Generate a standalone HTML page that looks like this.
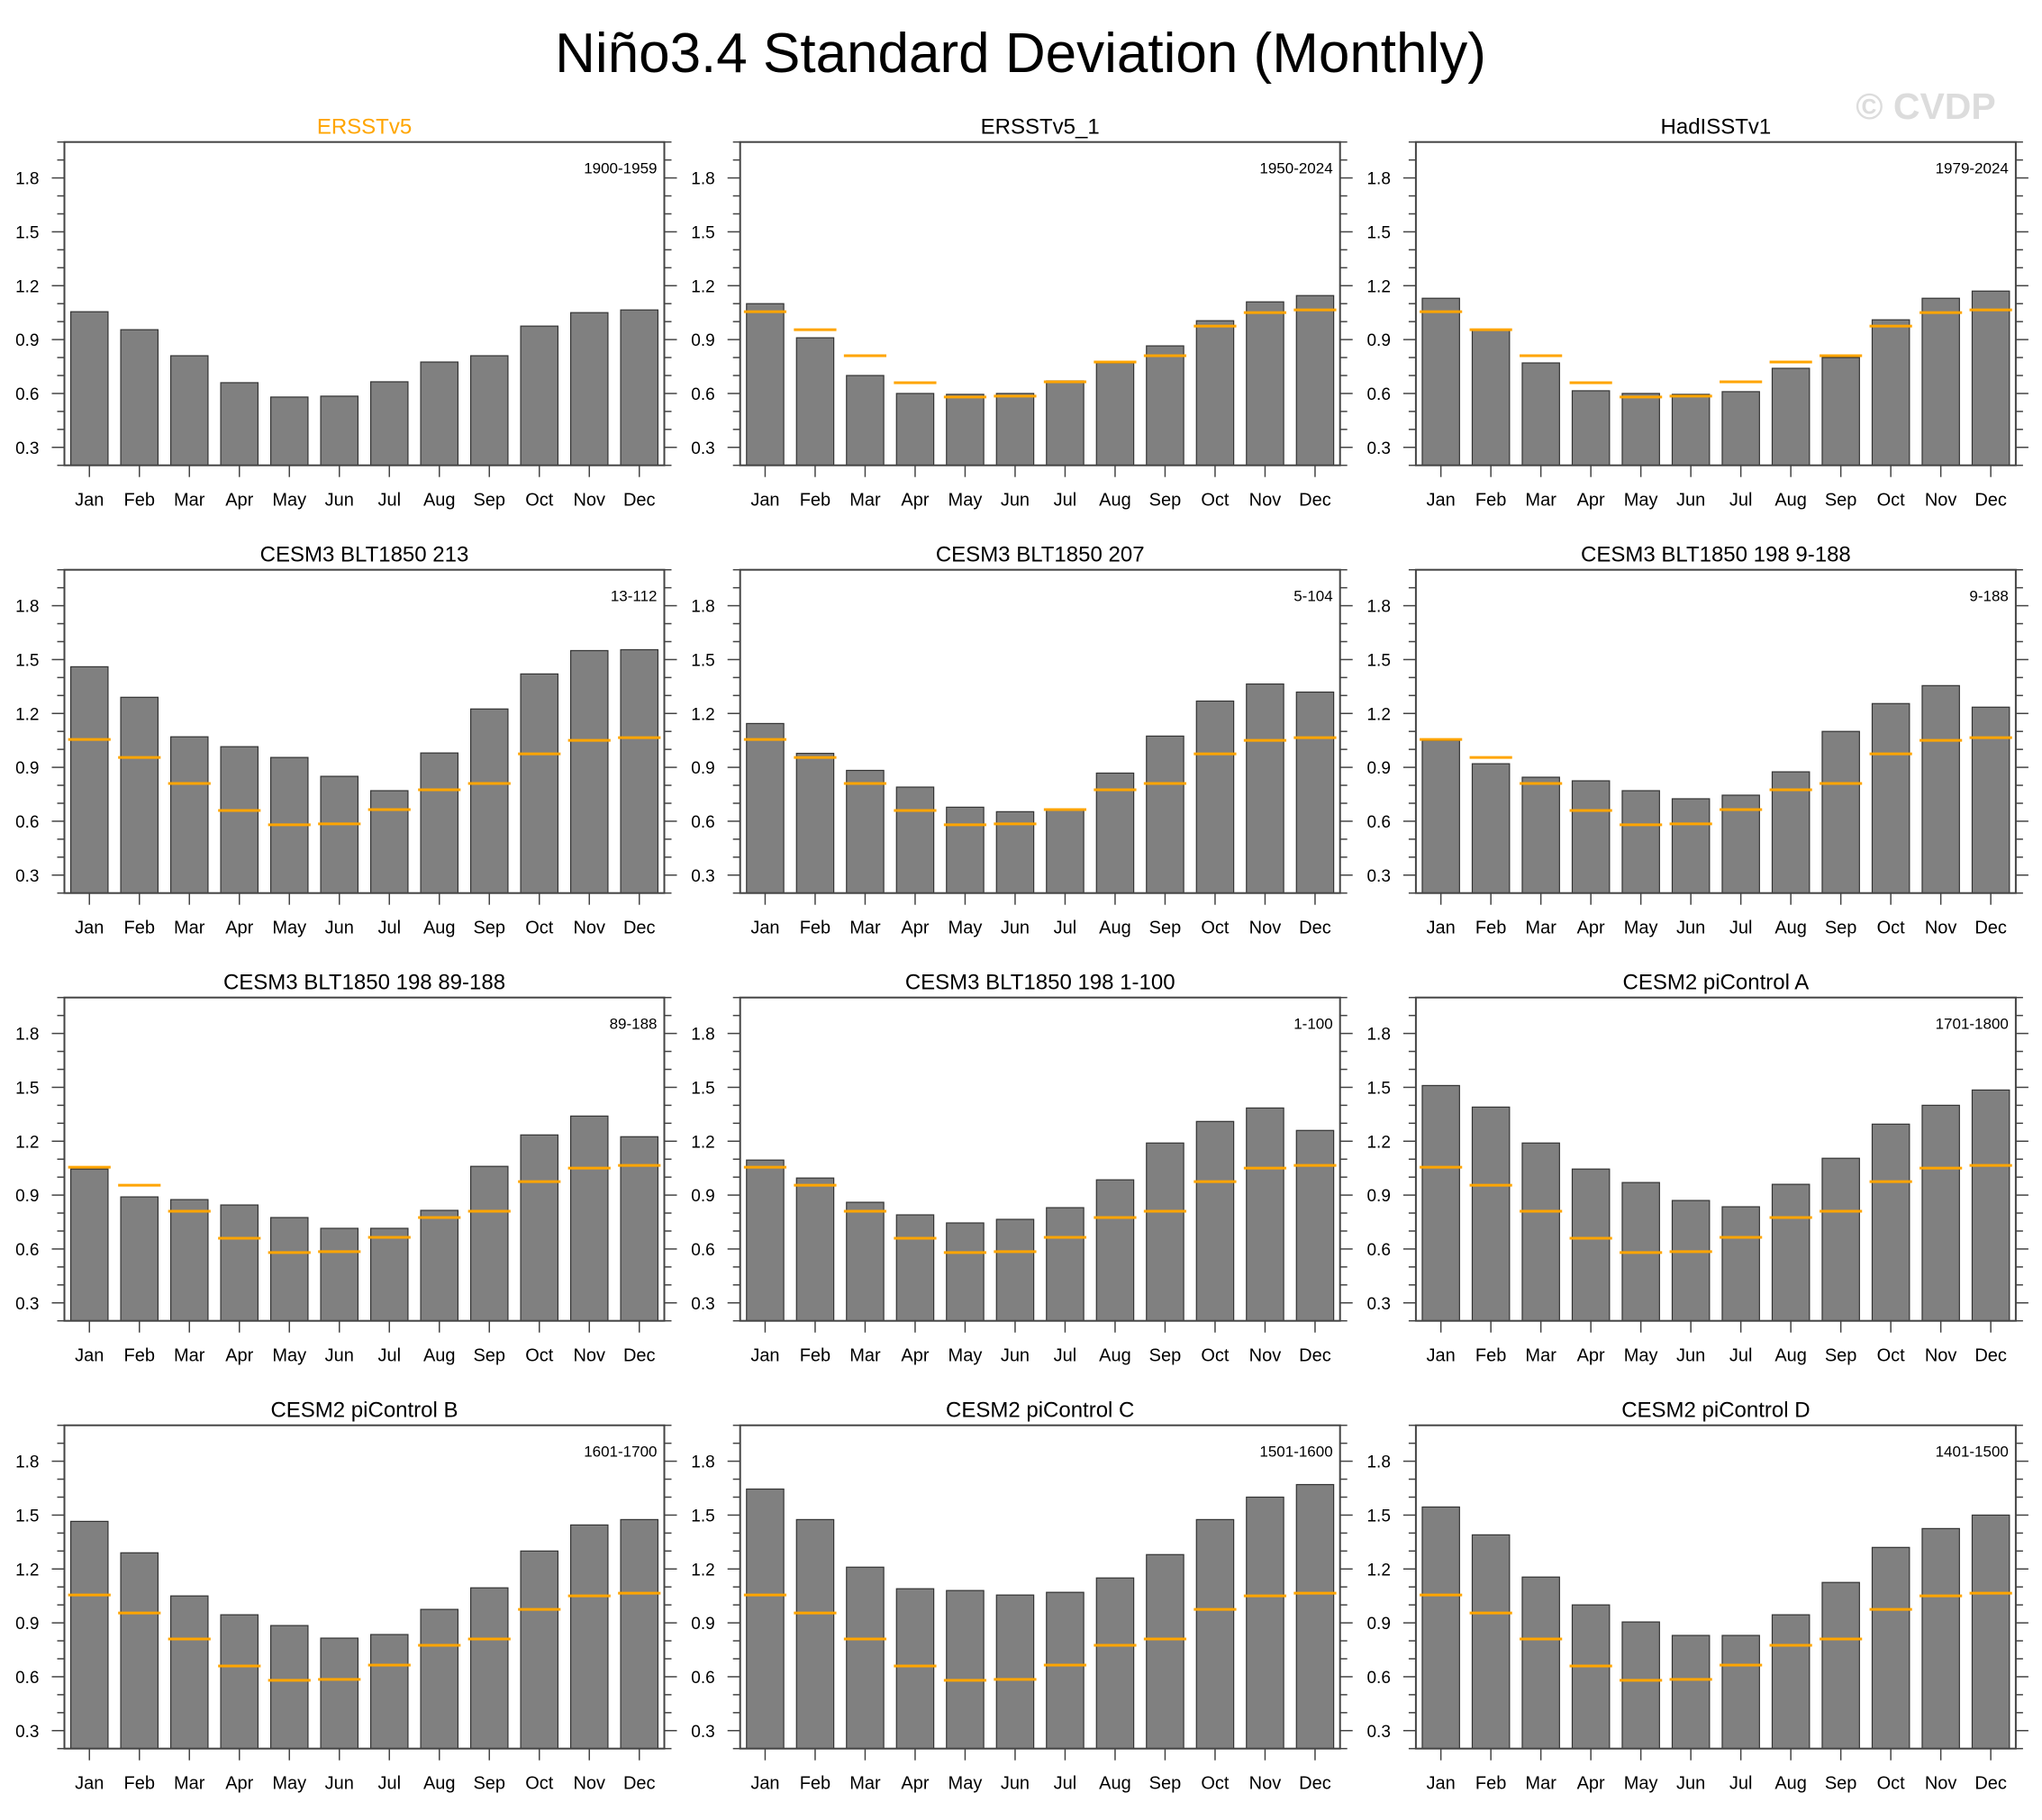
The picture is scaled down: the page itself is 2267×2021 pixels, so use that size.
<!DOCTYPE html>
<html><head><meta charset="utf-8">
<style>
html,body{margin:0;padding:0;background:#fff;}
svg{display:block;font-family:"Liberation Sans",sans-serif;}
</style></head>
<body>
<svg id="fig" width="2267" height="2021" viewBox="0 0 2267 2021" xmlns="http://www.w3.org/2000/svg">
<text x="1133" y="80" font-size="62" text-anchor="middle" fill="#000">Niño3.4 Standard Deviation (Monthly)</text>
<text x="2138" y="132" font-size="41" font-weight="bold" text-anchor="middle" fill="#dcdcdc">© CVDP</text>
</svg>
<script>
const months = ["Jan","Feb","Mar","Apr","May","Jun","Jul","Aug","Sep","Oct","Nov","Dec"];
const yTicks = [0.3,0.6,0.9,1.2,1.5,1.8];
const obsRef = [1.055,0.955,0.81,0.66,0.58,0.585,0.665,0.775,0.81,0.975,1.05,1.065];
const titles = ["ERSSTv5","ERSSTv5_1","HadISSTv1","CESM3 BLT1850 213","CESM3 BLT1850 207","CESM3 BLT1850 198 9-188","CESM3 BLT1850 198 89-188","CESM3 BLT1850 198 1-100","CESM2 piControl A","CESM2 piControl B","CESM2 piControl C","CESM2 piControl D"];
const periods = ["1900-1959","1950-2024","1979-2024","13-112","5-104","9-188","89-188","1-100","1701-1800","1601-1700","1501-1600","1401-1500"];
const p1 = [1.055,0.955,0.81,0.66,0.58,0.585,0.665,0.775,0.81,0.975,1.05,1.065];
const p2 = [1.10,0.91,0.70,0.60,0.595,0.60,0.67,0.77,0.865,1.005,1.11,1.145];
const p3 = [1.13,0.955,0.77,0.615,0.60,0.595,0.61,0.74,0.80,1.01,1.13,1.17];
const p4 = [1.46,1.29,1.07,1.015,0.955,0.85,0.77,0.98,1.225,1.42,1.55,1.555];
const p5 = [1.144,0.978,0.883,0.79,0.678,0.653,0.663,0.868,1.074,1.269,1.364,1.319];
const p6 = [1.05,0.92,0.845,0.825,0.77,0.725,0.745,0.875,1.10,1.255,1.355,1.235];
const p7 = [1.045,0.89,0.875,0.845,0.775,0.715,0.715,0.815,1.06,1.235,1.34,1.225];
const p8 = [1.095,0.995,0.86,0.79,0.745,0.765,0.83,0.985,1.19,1.31,1.385,1.26];
const p9 = [1.51,1.39,1.19,1.045,0.97,0.87,0.835,0.96,1.105,1.295,1.40,1.485];
const p10 = [1.465,1.29,1.05,0.945,0.885,0.815,0.835,0.975,1.095,1.30,1.445,1.475];
const p11 = [1.645,1.475,1.21,1.09,1.08,1.055,1.07,1.15,1.28,1.475,1.60,1.67];
const p12 = [1.545,1.39,1.155,1.0,0.905,0.83,0.83,0.945,1.125,1.32,1.425,1.50];
const series = [p1,p2,p3,p4,p5,p6,p7,p8,p9,p10,p11,p12];

const NS = "http://www.w3.org/2000/svg";
const svg = document.getElementById("fig");
function mk(tag, attrs, parent){
  const e = document.createElementNS(NS, tag);
  for (const k in attrs) e.setAttribute(k, attrs[k]);
  (parent||svg).appendChild(e);
  return e;
}
const W = 666, H = 359, YMIN = 0.2, YMAX = 2.0;
for (let p = 0; p < 12; p++) {
  const col = p % 3, row = Math.floor(p / 3);
  const L = 71.5 + col * 750.2, T = 157.7 + row * 475;
  const g = mk("g", {});
  
  
  const ys = v => T + H - (v - YMIN) / (YMAX - YMIN) * H;
  const xs = i => L + (i + 0.5) * (W / 12);
  const bw = (W / 12) * 0.745, ow = (W / 12) * 0.85;
  const t = mk("text", {x: L + W / 2, y: T - 9, "font-size": 24, "text-anchor": "middle", fill: p === 0 ? "#ffa500" : "#000"}, g);
  t.textContent = titles[p];
  
  
  series[p].forEach((v, i) => {
    const b = mk("rect", {x: xs(i) - bw / 2, y: ys(v), width: bw, height: ys(YMIN) - ys(v), fill: "#808080", stroke: "#333", "stroke-width": 1.2}, g);
    
    
  });
  if (p > 0) {
    obsRef.forEach((v, i) => {
      const l = mk("line", {x1: xs(i) - ow / 2, x2: xs(i) + ow / 2, y1: ys(v), y2: ys(v), stroke: "#ffa500", "stroke-width": 3}, g);
      
      
    });
  }
  const f = mk("rect", {x: L, y: T, width: W, height: H, fill: "none", stroke: "#444", "stroke-width": 2}, g);
  
  
  for (let k = 2; k <= 20; k++) {
    const v = k / 10, y = ys(v);
    const major = (k % 3 === 0);
    const len = major ? 14 : 8;
    mk("line", {x1: L - len, x2: L, y1: y, y2: y, stroke: "#444", "stroke-width": 1.5}, g);
    mk("line", {x1: L + W, x2: L + W + len, y1: y, y2: y, stroke: "#444", "stroke-width": 1.5}, g);
  }
  yTicks.forEach(v => {
    const tl = mk("text", {x: L - 28, y: ys(v) + 7, "font-size": 19, "text-anchor": "end", fill: "#000"}, g);
    tl.textContent = v.toFixed(1);
    
    
  });
  months.forEach((m, i) => {
    mk("line", {x1: xs(i), x2: xs(i), y1: T + H, y2: T + H + 13, stroke: "#444", "stroke-width": 1.5}, g);
    const xl = mk("text", {x: xs(i), y: T + H + 45, "font-size": 20, "text-anchor": "middle", fill: "#000"}, g);
    xl.textContent = m;
    
    
  });
  const pt = mk("text", {x: L + W - 8, y: T + 35, "font-size": 17, "text-anchor": "end", fill: "#000"}, g);
  pt.textContent = periods[p];
  
  
}
</script>
</body></html>
